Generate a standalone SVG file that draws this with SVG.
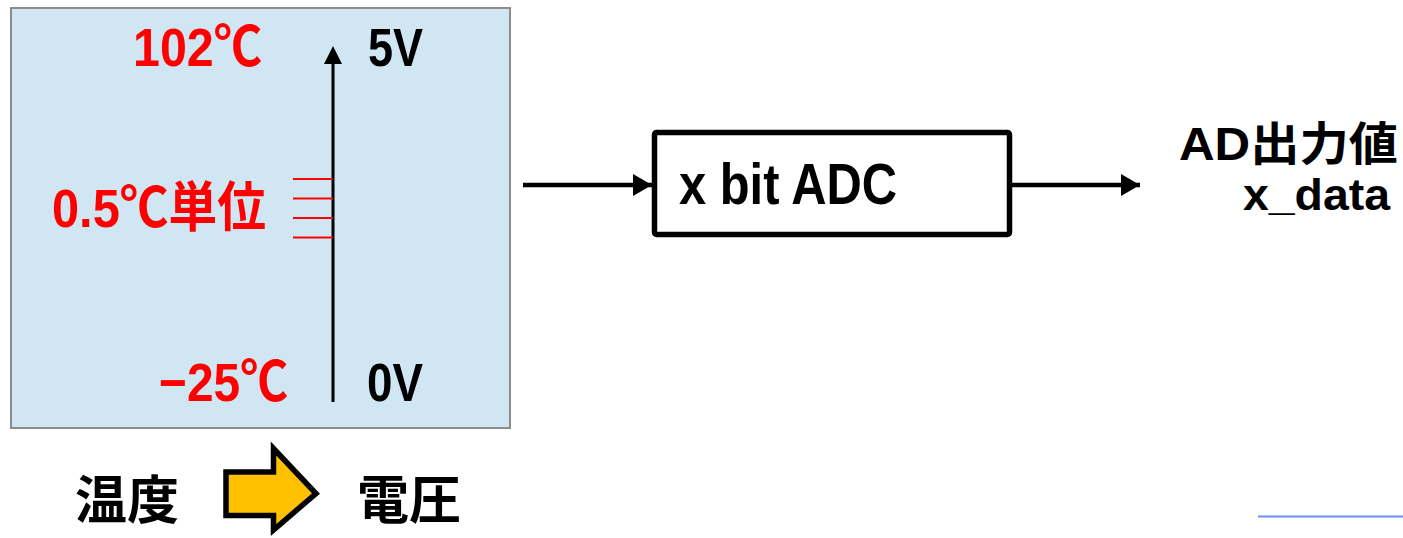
<svg xmlns="http://www.w3.org/2000/svg" width="1403" height="538" viewBox="0 0 1403 538">
  <style>
    .lat { font-family: "Liberation Sans", "Noto Sans CJK JP", sans-serif; font-weight: bold; }
    .jp { font-family: "Noto Sans CJK JP", sans-serif; font-weight: bold; }
    .red { fill: #FF0000; }
    .blk { fill: #000000; }
    .wire { stroke: #000; stroke-width: 4.5; fill: none; }
    .tick { stroke: #FF0000; stroke-width: 2; }
  </style>
  <defs>
    <marker id="head" markerUnits="userSpaceOnUse" markerWidth="22" markerHeight="24" refX="19" refY="11" orient="auto">
      <path d="M0,0 L19,11 L0,22 Z" fill="#000"/>
    </marker>
  </defs>

  <rect width="1403" height="538" fill="#FFFFFF"/>

  <!-- temperature / voltage scale panel -->
  <g id="scale-panel">
    <rect x="11" y="8" width="499" height="420" fill="#D0E6F3" stroke="#8C8C8C" stroke-width="2"/>
    <line x1="333" y1="402" x2="333" y2="60" stroke="#000" stroke-width="3"/>
    <path d="M333,46 L342,64 L324,64 Z" fill="#000"/>
    <line class="tick" x1="293" y1="179" x2="333" y2="179"/>
    <line class="tick" x1="293" y1="198.5" x2="333" y2="198.5"/>
    <line class="tick" x1="293" y1="218" x2="333" y2="218"/>
    <line class="tick" x1="293" y1="237.5" x2="333" y2="237.5"/>
    <text class="lat red" x="133" y="66" font-size="54" textLength="129" lengthAdjust="spacingAndGlyphs">102℃</text>
    <text class="lat blk" x="368" y="66" font-size="54" textLength="55" lengthAdjust="spacingAndGlyphs">5V</text>
    <text class="lat red" x="52" y="227" font-size="54" textLength="214" lengthAdjust="spacingAndGlyphs">0.5℃単位</text>
    <text class="lat red" x="159" y="401" font-size="54" textLength="129" lengthAdjust="spacingAndGlyphs">−25℃</text>
    <text class="lat blk" x="367" y="401" font-size="54" textLength="56" lengthAdjust="spacingAndGlyphs">0V</text>
  </g>

  <!-- ADC block -->
  <g id="adc">
    <rect x="654.5" y="132.5" width="355" height="102" rx="2" fill="#FFFFFF" stroke="#000" stroke-width="5.5"/>
    <text class="lat blk" x="679" y="204" font-size="57" textLength="218" lengthAdjust="spacingAndGlyphs">x bit ADC</text>
  </g>

  <!-- output label -->
  <g id="output">
    <text class="lat blk" x="1179" y="160" font-size="46" textLength="219" lengthAdjust="spacingAndGlyphs">AD出力値</text>
    <text class="lat blk" x="1243" y="210" font-size="44" textLength="147" lengthAdjust="spacingAndGlyphs">x_data</text>
  </g>

  <!-- temperature to voltage conversion caption -->
  <g id="caption">
    <text class="jp blk" x="75" y="519" font-size="52">温度</text>
    <path d="M226,472 L273.5,472 L273.5,448.5 L316,493.5 L273.5,530 L273.5,515.5 L226,515.5 Z" fill="#FFC000" stroke="#000" stroke-width="5.5" stroke-linejoin="miter"/>
    <text class="jp blk" x="357" y="519" font-size="52">電圧</text>
  </g>

  <!-- signal flow -->
  <g id="connectors">
    <line class="wire" x1="523" y1="185" x2="652" y2="185" marker-end="url(#head)"/>
    <line class="wire" x1="1012" y1="185" x2="1140" y2="185" marker-end="url(#head)"/>
  </g>

  <line x1="1258" y1="516.5" x2="1403" y2="516.5" stroke="#6C8EF5" stroke-width="2"/>
</svg>
